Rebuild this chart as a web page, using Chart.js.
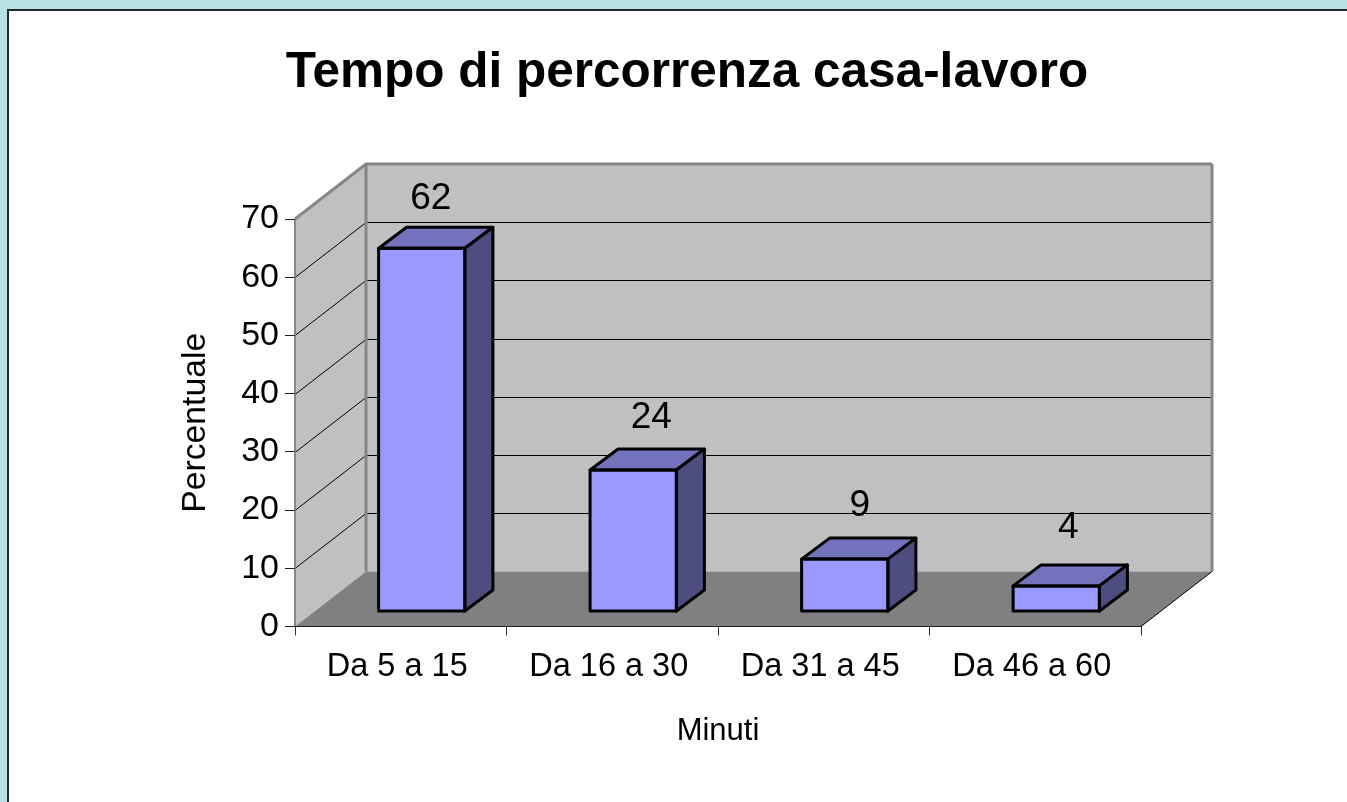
<!DOCTYPE html>
<html><head><meta charset="utf-8">
<style>
html,body{margin:0;padding:0;width:1347px;height:802px;overflow:hidden;background:#B8DFE2;}
#frame{position:absolute;left:7px;top:9px;width:1400px;height:900px;background:#fff;border:2px solid #20292b;}
canvas{position:absolute;left:0;top:0;}
</style>
<script src="https://cdn.jsdelivr.net/npm/chart.js@4/dist/chart.umd.min.js"></script>
</head><body>
<div id="frame"></div>
<canvas id="c" width="1347" height="802"></canvas>
<script>
const titleText = "Tempo di percorrenza casa-lavoro";
const xTitle = "Minuti";
const yTitle = "Percentuale";
const categories = ["Da 5 a 15","Da 16 a 30","Da 31 a 45","Da 46 a 60"];
const values = [62.4,24.3,9,4.4];
const yMax = 70;
const yStep = 10;
const FONT = '"Liberation Sans", Arial, sans-serif';
const WALL = {dx:71, dy:-55};
const BAR_SHIFT = {dx:21, dy:-15};
const BAR_DEPTH = {dx:28, dy:-21};
const LABEL_NUDGE_X = [9,18,15,12];
const LABEL_NUDGE_Y = [-49,-52,-53,-58];

function poly(ctx, pts, fill, stroke, lw){
  ctx.beginPath();
  pts.forEach((p,i)=> i?ctx.lineTo(p[0],p[1]):ctx.moveTo(p[0],p[1]));
  ctx.closePath();
  if(fill){ctx.fillStyle=fill;ctx.fill();}
  if(stroke){ctx.strokeStyle=stroke;ctx.lineWidth=lw;ctx.lineJoin='round';ctx.stroke();}
}
function line(ctx,x1,y1,x2,y2,color,lw){
  ctx.beginPath();ctx.moveTo(x1,y1);ctx.lineTo(x2,y2);
  ctx.strokeStyle=color;ctx.lineWidth=lw;ctx.stroke();
}
const box3d = {
  id:'box3d',
  beforeDraw(chart){
    const {ctx,chartArea:a,scales:{y}} = chart;
    const L=a.left,R=a.right,B=y.getPixelForValue(0),T=y.getPixelForValue(yMax);
    const dx=WALL.dx,dy=WALL.dy;
    ctx.save();
    poly(ctx,[[L+dx,T+dy],[R+dx,T+dy],[R+dx,B+dy],[L+dx,B+dy]],'#C0C0C0');
    poly(ctx,[[L,B],[L,T],[L+dx,T+dy],[L+dx,B+dy]],'#C0C0C0');
    poly(ctx,[[L,B],[L+dx,B+dy],[R+dx,B+dy],[R,B]],'#808080');
    for(let v=yStep;v<yMax;v+=yStep){
      const p=Math.round(y.getPixelForValue(v))+0.5;
      line(ctx,L,p,L+dx,p+dy,'#000',1);
      line(ctx,L+dx,p+dy,R+dx,p+dy,'#000',1);
    }
    ctx.lineCap='butt';
    line(ctx,L,T,L+dx,T+dy,'#868686',3);
    line(ctx,L+dx-1,T+dy,R+dx,T+dy,'#868686',3);
    line(ctx,L+dx,T+dy,L+dx,B+dy,'#868686',3);
    line(ctx,R+dx,T+dy,R+dx,B+dy,'#868686',3);
    line(ctx,L,T,L,B,'#868686',2);
    line(ctx,R,B,R+dx,B+dy,'#000',1);
    ctx.restore();
  },
  beforeDatasetDraw(chart){
    chart.ctx.save();
    chart.ctx.translate(BAR_SHIFT.dx,BAR_SHIFT.dy);
  },
  afterDatasetDraw(chart,args){
    const ctx=chart.ctx, bars=chart.getDatasetMeta(args.index).data;
    const dx=BAR_DEPTH.dx,dy=BAR_DEPTH.dy;
    bars.forEach((b,i)=>{
      const l=b.x-b.width/2,r=b.x+b.width/2,t=b.y,bt=b.base;
      poly(ctx,[[l,t],[l+dx,t+dy],[r+dx,t+dy],[r,t]],'#7373BD','#000',3);
      poly(ctx,[[r,t],[r+dx,t+dy],[r+dx,bt+dy],[r,bt]],'#4D4D80','#000',3);
      poly(ctx,[[l,t],[r,t],[r,bt],[l,bt]],null,'#000',3);
      ctx.fillStyle='#000';
      ctx.font='37px '+FONT;
      ctx.textAlign='center';ctx.textBaseline='middle';
      ctx.fillText(String(Math.round(values[i])),b.x+LABEL_NUDGE_X[i],b.y+LABEL_NUDGE_Y[i]);
    });
    ctx.restore();
  }
};
new Chart(document.getElementById('c'),{
  type:'bar',
  data:{labels:categories,datasets:[{
    data:values,backgroundColor:'#9999FF',borderWidth:0,
    categoryPercentage:1,barPercentage:0.408
  }]},
  plugins:[box3d],
  options:{
    responsive:false,animation:false,
    layout:{padding:{left:27,top:0,right:0,bottom:0}},
    plugins:{
      legend:{display:false},tooltip:{enabled:false},
      title:{display:true,text:titleText,color:'#000',
        font:{family:FONT,size:49.5,weight:'bold'},padding:{top:44,bottom:115.6}}
    },
    scales:{
      x:{
        grid:{drawOnChartArea:false,color:'#333',tickLength:9,tickWidth:1},
        border:{display:true,color:'#222',width:1},
        ticks:{color:'#000',font:{family:FONT,size:32.5},padding:12,labelOffset:-3.5,maxRotation:0,autoSkip:false},
        title:{display:true,text:xTitle,color:'#000',font:{family:FONT,size:31},padding:{top:22,bottom:52}},
        afterFit(s){s.height=175.5;}
      },
      y:{
        min:0,max:yMax,
        grid:{drawOnChartArea:false,color:'#222',tickLength:10,tickWidth:1},
        border:{display:false},
        ticks:{color:'#000',font:{family:FONT,size:34},padding:6,stepSize:yStep},
        title:{display:true,text:yTitle,color:'#000',font:{family:FONT,size:33.7},padding:{top:148,bottom:0}},
        afterFit(s){s.width=268;}
      },
      spacer:{
        position:'right',display:true,
        grid:{display:false},border:{display:false},ticks:{display:false},
        afterFit(s){s.width=206;}
      }
    }
  }
});
</script>
</body></html>
